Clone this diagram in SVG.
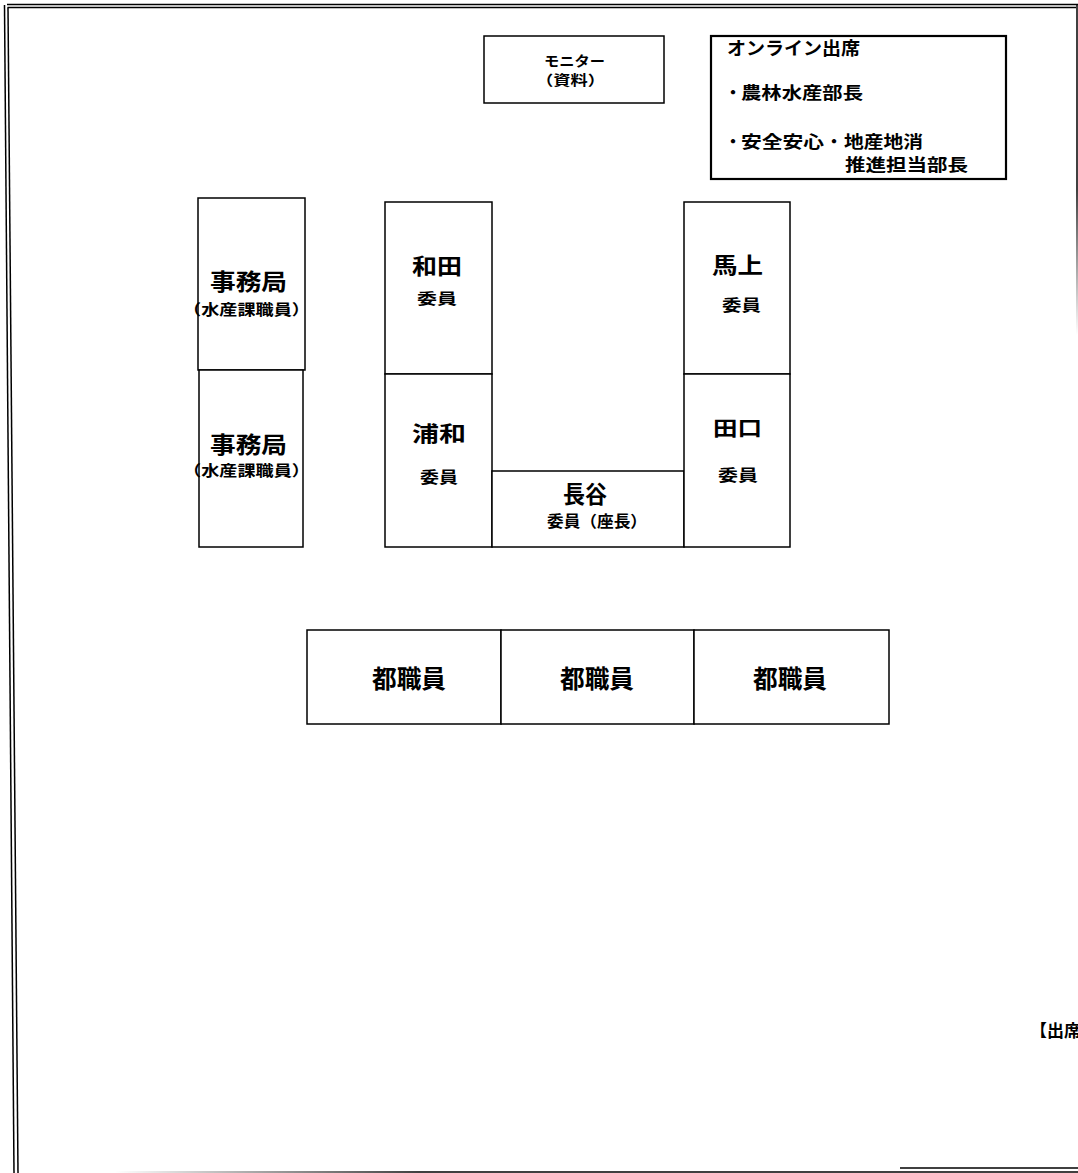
<svg xmlns="http://www.w3.org/2000/svg" width="1078" height="1173" viewBox="0 0 1078 1173">
<defs>
<style>
.box{fill:#fff;stroke:#000;stroke-width:1.5}
.thick{stroke-width:2.2}
.t{font-family:"Noto Sans CJK JP","Noto Sans CJK SC",sans-serif;font-weight:bold;fill:#000}
.frame{fill:none;stroke:#000;stroke-width:1.5}
</style>
<linearGradient id="gBottom" gradientUnits="userSpaceOnUse" x1="115" y1="0" x2="420" y2="0">
<stop offset="0" stop-color="#fff"/>
<stop offset="1" stop-color="#000"/>
</linearGradient>
<linearGradient id="gRight" gradientUnits="userSpaceOnUse" x1="0" y1="190" x2="0" y2="335">
<stop offset="0" stop-color="#000"/>
<stop offset="1" stop-color="#fff"/>
</linearGradient>
</defs>
<rect width="1078" height="1173" fill="#fff"/>

<g id="frame">
<line class="frame" x1="7" y1="4.5" x2="1078" y2="4.5"/>
<line class="frame" x1="7.5" y1="7.5" x2="1076" y2="7.5"/>
<line class="frame" x1="4.5" y1="5" x2="14" y2="1173"/>
<line class="frame" x1="8" y1="7.5" x2="18" y2="1173"/>
<line x1="1077" y1="4.5" x2="1077" y2="336" stroke="url(#gRight)" stroke-width="1.5"/>
<line x1="900" y1="1168" x2="1078" y2="1168" stroke="#000" stroke-width="1.5"/>
<line x1="110" y1="1172" x2="1078" y2="1172" stroke="url(#gBottom)" stroke-width="1.5"/>
</g>

<g id="connectors"></g>

<g id="monitor">
<rect class="box" x="484" y="36" width="180" height="67"/>
<text class="t" x="544" y="66" font-size="14" textLength="61" lengthAdjust="spacingAndGlyphs">モニター</text>
<text class="t" x="536" y="85" font-size="14" textLength="69" lengthAdjust="spacingAndGlyphs">（資料）</text>
</g>

<g id="online">
<rect class="box thick" x="711" y="36" width="295" height="143"/>
<text class="t" x="727" y="55" font-size="18" textLength="133" lengthAdjust="spacingAndGlyphs">オンライン出席</text>
<text class="t" font-size="17"><tspan x="724.5" y="99">・</tspan><tspan x="741" y="99" textLength="122" lengthAdjust="spacingAndGlyphs">農林水産部長</tspan></text>
<text class="t" font-size="17"><tspan x="724.5" y="148">・</tspan><tspan x="741" y="148" textLength="83" lengthAdjust="spacingAndGlyphs">安全安心</tspan><tspan x="825.5" y="148">・</tspan><tspan x="844" y="148" textLength="79" lengthAdjust="spacingAndGlyphs">地産地消</tspan></text>
<text class="t" x="845" y="171" font-size="17" textLength="123" lengthAdjust="spacingAndGlyphs">推進担当部長</text>
</g>

<g id="jimukyoku1">
<rect class="box" x="198" y="198" width="107" height="172"/>
<text class="t" x="210" y="290" font-size="23" textLength="77" lengthAdjust="spacingAndGlyphs">事務局</text>
<text class="t" x="183" y="315" font-size="15" textLength="127" lengthAdjust="spacingAndGlyphs">（水産課職員）</text>
</g>

<g id="jimukyoku2">
<rect class="box" x="199" y="370" width="104" height="177"/>
<text class="t" x="210" y="453" font-size="23" textLength="77" lengthAdjust="spacingAndGlyphs">事務局</text>
<text class="t" x="183" y="476" font-size="15" textLength="127" lengthAdjust="spacingAndGlyphs">（水産課職員）</text>
</g>

<g id="wada">
<rect class="box" x="385" y="202" width="107" height="172"/>
<text class="t" x="412" y="274" font-size="22" textLength="50" lengthAdjust="spacingAndGlyphs">和田</text>
<text class="t" x="417" y="304" font-size="15" textLength="40" lengthAdjust="spacingAndGlyphs">委員</text>
</g>

<g id="urawa">
<rect class="box" x="385" y="374" width="107" height="173"/>
<text class="t" x="412" y="441" font-size="21" textLength="54" lengthAdjust="spacingAndGlyphs">浦和</text>
<text class="t" x="420" y="483" font-size="16" textLength="38" lengthAdjust="spacingAndGlyphs">委員</text>
</g>

<g id="hase">
<rect class="box" x="492" y="471" width="192" height="76"/>
<text class="t" x="563" y="503" font-size="24" textLength="44" lengthAdjust="spacingAndGlyphs">長谷</text>
<text class="t" x="547" y="527" font-size="16" textLength="100" lengthAdjust="spacingAndGlyphs">委員（座長）</text>
</g>

<g id="magami">
<rect class="box" x="684" y="202" width="106" height="172"/>
<text class="t" x="712" y="273" font-size="22" textLength="51" lengthAdjust="spacingAndGlyphs">馬上</text>
<text class="t" x="722" y="311" font-size="16" textLength="39" lengthAdjust="spacingAndGlyphs">委員</text>
</g>

<g id="taguchi">
<rect class="box" x="684" y="374" width="106" height="173"/>
<text class="t" x="713" y="436" font-size="20" textLength="49" lengthAdjust="spacingAndGlyphs">田口</text>
<text class="t" x="718" y="481" font-size="16" textLength="40" lengthAdjust="spacingAndGlyphs">委員</text>
</g>

<g id="staff1">
<rect class="box" x="307" y="630" width="194" height="94"/>
<text class="t" x="372" y="688" font-size="25" textLength="74" lengthAdjust="spacingAndGlyphs">都職員</text>
</g>
<g id="staff2">
<rect class="box" x="501" y="630" width="193" height="94"/>
<text class="t" x="560" y="688" font-size="25" textLength="74" lengthAdjust="spacingAndGlyphs">都職員</text>
</g>
<g id="staff3">
<rect class="box" x="694" y="630" width="195" height="94"/>
<text class="t" x="753" y="688" font-size="25" textLength="74" lengthAdjust="spacingAndGlyphs">都職員</text>
</g>

<g id="note">
<text class="t" x="1030" y="1037" font-size="17">【出席者】</text>
</g>
</svg>
